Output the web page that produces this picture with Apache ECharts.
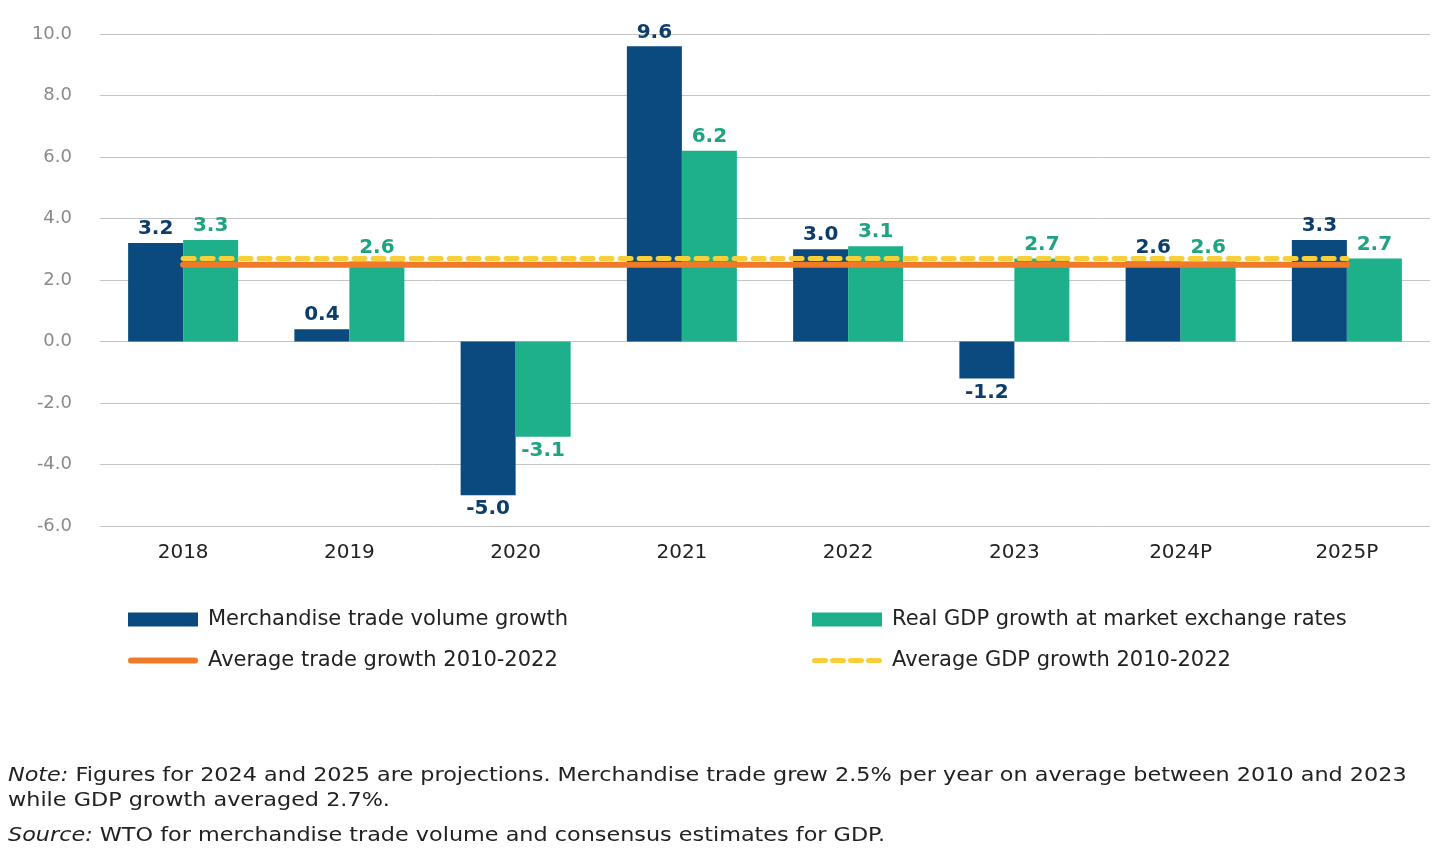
<!DOCTYPE html>
<html>
<head>
<meta charset="utf-8">
<script src="https://cdn.jsdelivr.net/npm/echarts@6/dist/echarts.min.js"></script>
<style>
html,body{margin:0;padding:0;background:#fff;}
#chart{width:1452px;height:856px;}
</style>
</head>
<body>
<div id="chart"></div>
<script>
const categories = ['2018','2019','2020','2021','2022','2023','2024P','2025P'];
const tradeGrowth = [3.2, 0.4, -5.0, 9.6, 3.0, -1.2, 2.6, 3.3];
const gdpGrowth = [3.3, 2.6, -3.1, 6.2, 3.1, 2.7, 2.6, 2.7];
const avgTrade = [2.5, 2.5, 2.5, 2.5, 2.5, 2.5, 2.5, 2.5];
const avgGdp = [2.7, 2.7, 2.7, 2.7, 2.7, 2.7, 2.7, 2.7];
const seriesNames = ['Merchandise trade volume growth','Real GDP growth at market exchange rates','Average trade growth 2010-2022','Average GDP growth 2010-2022'];
const noteText = 'Figures for 2024 and 2025 are projections. Merchandise trade grew 2.5% per year on average between 2010 and 2023';
const noteText2 = 'while GDP growth averaged 2.7%.';
const sourceText = 'WTO for merchandise trade volume and consensus estimates for GDP.';

const FONT = 'DejaVu Sans';
const C_TRADE = '#0a4a7e';
const C_GDP = '#1eb08a';
const C_ORANGE = '#ef7b2a';
const C_YELLOW = '#f6cf3a';

function barData(vals) {
  return vals.map(v => ({
    value: v,
    label: { position: v < 0 ? 'bottom' : 'top' }
  }));
}

const dashIcon = 'path://M2.5,0 H13.5 A2.5,2.5 0 0 1 13.5,5 H2.5 A2.5,2.5 0 0 1 2.5,0 Z M20.5,0 H31.5 A2.5,2.5 0 0 1 31.5,5 H20.5 A2.5,2.5 0 0 1 20.5,0 Z M38.5,0 H49.5 A2.5,2.5 0 0 1 49.5,5 H38.5 A2.5,2.5 0 0 1 38.5,0 Z M56.5,0 H67.5 A2.5,2.5 0 0 1 67.5,5 H56.5 A2.5,2.5 0 0 1 56.5,0 Z';
const lineIcon = 'path://M3,0 H67 A3,3 0 0 1 67,6 H3 A3,3 0 0 1 3,0 Z';

const chart = echarts.init(document.getElementById('chart'), null, {renderer:'canvas'});
const legendBase = {
  orient: 'horizontal', itemWidth: 70, itemHeight: 14, itemGap: 0, padding: 0,
  textStyle: { fontFamily: FONT, fontSize: 21, color: '#222', padding: [0,0,0,5] },
  selectedMode: false
};
const option = {
  animation: false,
  textStyle: { fontFamily: FONT },
  grid: { left: 100, right: 22, top: 34, bottom: 330, containLabel: false },
  legend: [
    Object.assign({}, legendBase, { left: 128, top: 609, data: [{name: seriesNames[0], icon: 'rect'}] }),
    Object.assign({}, legendBase, { left: 812, top: 609, data: [{name: seriesNames[1], icon: 'rect'}] }),
    Object.assign({}, legendBase, { left: 128, top: 650, itemHeight: 6, data: [{name: seriesNames[2], icon: lineIcon, itemStyle: {color: C_ORANGE}}] }),
    Object.assign({}, legendBase, { left: 812, top: 650, itemHeight: 5, data: [{name: seriesNames[3], icon: dashIcon, itemStyle: {color: C_YELLOW}}] })
  ],
  xAxis: {
    type: 'category', data: categories,
    axisLine: { show: false }, axisTick: { show: false },
    axisLabel: { fontFamily: FONT, fontSize: 20, color: '#222', margin: 17 }
  },
  yAxis: {
    type: 'value', min: -6, max: 10, interval: 2,
    axisLine: { show: false }, axisTick: { show: false },
    axisLabel: { fontFamily: FONT, fontSize: 18, color: '#8a8a8a', margin: 28, formatter: v => v.toFixed(1) },
    splitLine: { lineStyle: { color: '#c4c4c4', width: 1 } }
  },
  series: [
    {
      name: seriesNames[0], type: 'bar', data: barData(tradeGrowth), barWidth: 55, barGap: '0%',
      itemStyle: { color: C_TRADE }, z: 2,
      label: { show: true, fontFamily: FONT, fontSize: 20, fontWeight: 'bold', color: '#0d3d6b', distance: 4, formatter: p => p.value.toFixed(1) }
    },
    {
      name: seriesNames[1], type: 'bar', data: barData(gdpGrowth), barWidth: 55, barGap: '0%',
      itemStyle: { color: C_GDP }, z: 2,
      label: { show: true, fontFamily: FONT, fontSize: 20, fontWeight: 'bold', color: '#1fa383', distance: 4, formatter: p => p.value.toFixed(1) }
    },
    {
      name: seriesNames[2], type: 'line', data: avgTrade, symbol: 'none', z: 5,
      lineStyle: { color: C_ORANGE, width: 6, cap: 'round' }, itemStyle: { color: C_ORANGE }
    },
    {
      name: seriesNames[3], type: 'line', data: avgGdp, symbol: 'none', z: 6,
      lineStyle: { color: C_YELLOW, width: 5, type: [11, 8], cap: 'round' }, itemStyle: { color: C_YELLOW }
    }
  ],
  graphic: [
    { type: 'text', x: 8, y: 776, scaleX: 1.175, style: {
      text: '{i|Note:} ' + noteText, font: '19px "' + FONT + '"', fill: '#222', verticalAlign: 'middle',
      rich: { i: { fontStyle: 'italic', fontFamily: FONT, fontSize: 19, fill: '#222' } } } },
    { type: 'text', x: 8, y: 801, scaleX: 1.175, style: { text: noteText2, font: '19px "' + FONT + '"', fill: '#222', verticalAlign: 'middle' } },
    { type: 'text', x: 8, y: 836, scaleX: 1.175, style: {
      text: '{i|Source:} ' + sourceText, font: '19px "' + FONT + '"', fill: '#222', verticalAlign: 'middle',
      rich: { i: { fontStyle: 'italic', fontFamily: FONT, fontSize: 19, fill: '#222' } } } }
  ]
};
chart.setOption(option);
</script>
</body>
</html>
